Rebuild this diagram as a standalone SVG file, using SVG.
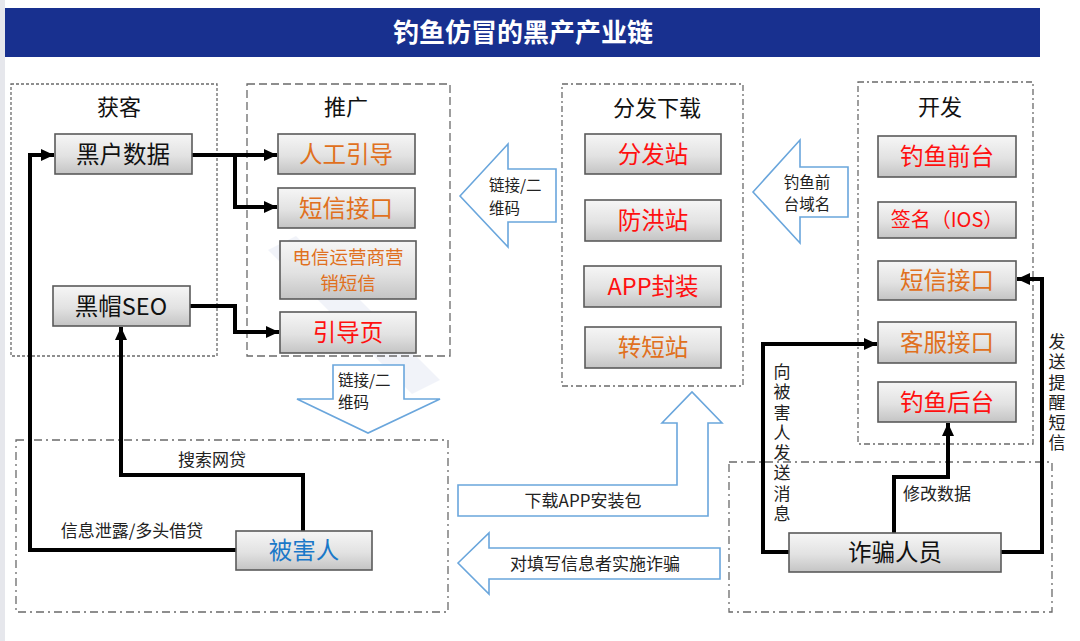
<svg xmlns="http://www.w3.org/2000/svg" width="1080" height="641" viewBox="0 0 1080 641">
<defs>
<linearGradient id="g" x1="0" y1="0" x2="0" y2="1">
<stop offset="0" stop-color="#f6f6f6"/>
<stop offset="0.55" stop-color="#e2e2e2"/>
<stop offset="1" stop-color="#c4c4c4"/>
</linearGradient>
<marker id="ah" markerUnits="userSpaceOnUse" markerWidth="14" markerHeight="14" refX="13" refY="7" orient="auto">
<path d="M0,1 L13,7 L0,13 z" fill="#000"/>
</marker>
<style>
text{font-family:"Noto Sans CJK SC","Liberation Sans",sans-serif;}
.nb{fill:url(#g);stroke:#5a5a5a;stroke-width:1.6;}
.nt{font-size:23.5px;text-anchor:middle;}
.blk{fill:#111;}
.org{fill:#e07020;}
.red{fill:#ff1010;}
.blu{fill:#1a78c8;}
.grp{fill:none;stroke:#6a6a6a;stroke-width:1.3;}
.gt{font-size:22px;text-anchor:middle;fill:#111;}
.ln{fill:none;stroke:#000;stroke-width:4;}
.ba{fill:#fff;stroke:#6aa6dc;stroke-width:1.6;}
.lb{font-size:15.5px;fill:#222;}
.ll{font-size:17px;fill:#222;text-anchor:middle;}
.vt{font-size:17px;fill:#222;writing-mode:vertical-rl;letter-spacing:3.3px;}
</style>
</defs>
<rect x="0" y="0" width="1080" height="641" fill="#fff"/>
<rect x="0" y="0" width="5" height="641" fill="#e6e7ec"/>
<rect x="5" y="8" width="1035" height="49" fill="#18308f"/>
<text x="523" y="42" font-size="26" font-weight="bold" fill="#fff" text-anchor="middle">钓鱼仿冒的黑产产业链</text>

<polygon points="268,250 296,236 440,380 412,394" fill="#dfe4f2" opacity="0.45"/>

<!-- group boxes -->
<g id="group-huoke">
<rect class="grp" x="11" y="84" width="206" height="272" stroke-dasharray="3,2"/>
<text class="gt" x="119" y="115">获客</text>
</g>
<g id="group-tuiguang">
<rect class="grp" x="247" y="84" width="203" height="272" stroke-dasharray="8,4" stroke="#555"/>
<text class="gt" x="346" y="115">推广</text>
</g>
<g id="group-fenfa">
<rect class="grp" x="562" y="84" width="181" height="302" stroke-dasharray="6,3,2,3"/>
<text class="gt" x="657" y="116">分发下载</text>
</g>
<g id="group-kaifa">
<rect class="grp" x="858" y="82" width="175" height="362" stroke-dasharray="6,3,2,3"/>
<text class="gt" x="940" y="115">开发</text>
</g>
<g id="group-victim">
<rect class="grp" x="16" y="440" width="432" height="172" stroke-dasharray="8,4,2,4"/>
</g>
<g id="group-fraud">
<rect class="grp" x="729" y="462" width="323" height="150" stroke-dasharray="8,4,2,4"/>
</g>

<!-- blue hollow arrows -->
<g id="arrow-link1">
<polygon class="ba" points="460,196 508,144 508,169 556,169 556,222 508,222 508,247"/>
<text class="lb" x="489" y="191">链接/二</text>
<text class="lb" x="489" y="214">维码</text>
</g>
<g id="arrow-domain">
<polygon class="ba" points="753,192 800,140 800,167 848,167 848,217 800,217 800,243"/>
<text class="lb" x="807" y="188" text-anchor="middle">钓鱼前</text>
<text class="lb" x="807" y="210" text-anchor="middle">台域名</text>
</g>
<g id="arrow-link2">
<polygon class="ba" points="333,365 404,365 404,399 440,399 368,433 297,399 333,399"/>
<text class="lb" x="338" y="386">链接/二</text>
<text class="lb" x="338" y="408">维码</text>
</g>
<g id="arrow-download">
<polygon class="ba" points="458,485 677,485 677,423 662,423 692,392 722,423 708,423 708,516 458,516"/>
<text class="ll" x="583" y="507">下载APP安装包</text>
</g>
<g id="arrow-fraud">
<polygon class="ba" points="458,563 489,533 489,548 720,548 720,579 489,579 489,594"/>
<text class="ll" x="595" y="570">对填写信息者实施诈骗</text>
</g>

<!-- connectors -->
<g id="connectors">
<path class="ln" d="M192,155 H277" marker-end="url(#ah)"/>
<path class="ln" d="M235,155 V207 H277" marker-end="url(#ah)"/>
<path class="ln" d="M190,306 H235 V332 H279" marker-end="url(#ah)"/>
<path class="ln" d="M236,550 H30 V155 H54" marker-end="url(#ah)"/>
<path class="ln" d="M303,531 V475 H121 V327" marker-end="url(#ah)"/>
<path class="ln" d="M789,552 H763 V344 H877" marker-end="url(#ah)"/>
<path class="ln" d="M1001,552 H1042 V279 H1017" marker-end="url(#ah)"/>
<path class="ln" d="M894,533 V477 H948 V423" marker-end="url(#ah)"/>
<text class="ll" x="212" y="466">搜索网贷</text>
<text class="ll" x="132" y="537">信息泄露/多头借贷</text>
<text class="ll" x="937" y="500">修改数据</text>
<text class="vt" x="782" y="363">向被害人发送消息</text>
<text class="vt" x="1057" y="333">发送提醒短信</text>
</g>

<!-- nodes -->
<g id="n-heihu"><rect class="nb" x="55" y="134" width="137" height="40"/><text class="nt blk" x="123" y="163">黑户数据</text></g>
<g id="n-heimao"><rect class="nb" x="53" y="286" width="137" height="40"/><text class="nt blk" x="121" y="315">黑帽SEO</text></g>
<g id="n-rengong"><rect class="nb" x="278" y="134" width="137" height="40"/><text class="nt org" x="346" y="163">人工引导</text></g>
<g id="n-duanxin1"><rect class="nb" x="278" y="188" width="137" height="40"/><text class="nt org" x="346" y="217">短信接口</text></g>
<g id="n-dianxin"><rect class="nb" x="280" y="241" width="136" height="58"/><text class="org" x="348" y="264" font-size="18.5" text-anchor="middle">电信运营商营</text><text class="org" x="348" y="290" font-size="18.5" text-anchor="middle">销短信</text></g>
<g id="n-yindao"><rect class="nb" x="280" y="312" width="136" height="41"/><text class="nt red" x="348" y="341">引导页</text></g>
<g id="n-fenfa"><rect class="nb" x="585" y="134" width="136" height="40"/><text class="nt red" x="653" y="163">分发站</text></g>
<g id="n-fanghong"><rect class="nb" x="585" y="200" width="136" height="41"/><text class="nt red" x="653" y="229">防洪站</text></g>
<g id="n-app"><rect class="nb" x="584" y="266" width="137" height="41"/><text class="nt red" x="653" y="295">APP封装</text></g>
<g id="n-zhuan"><rect class="nb" x="585" y="327" width="136" height="41"/><text class="nt org" x="653" y="356">转短站</text></g>
<g id="n-qiantai"><rect class="nb" x="878" y="136" width="138" height="41"/><text class="nt red" x="947" y="165">钓鱼前台</text></g>
<g id="n-qianming"><rect class="nb" x="878" y="202" width="138" height="36"/><text class="red" x="947" y="227" font-size="20" text-anchor="middle">签名（IOS）</text></g>
<g id="n-duanxin2"><rect class="nb" x="878" y="261" width="138" height="39"/><text class="nt org" x="947" y="289">短信接口</text></g>
<g id="n-kefu"><rect class="nb" x="878" y="322" width="138" height="41"/><text class="nt org" x="947" y="351">客服接口</text></g>
<g id="n-houtai"><rect class="nb" x="878" y="382" width="138" height="40"/><text class="nt red" x="947" y="411">钓鱼后台</text></g>
<g id="n-victim"><rect class="nb" x="236" y="531" width="136" height="39"/><text class="nt blu" x="304" y="559">被害人</text></g>
<g id="n-fraud"><rect class="nb" x="789" y="533" width="212" height="39"/><text class="nt blk" x="895" y="561">诈骗人员</text></g>
</svg>
